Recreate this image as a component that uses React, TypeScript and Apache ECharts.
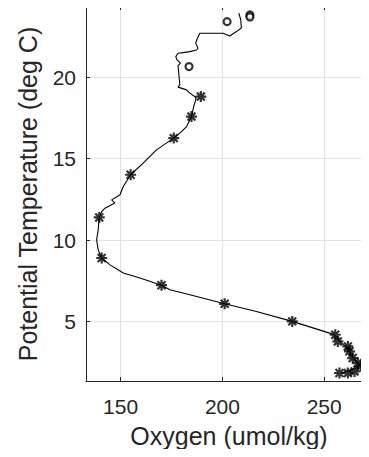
import React, { useEffect, useRef } from "react";
import * as echarts from "echarts";

// Profile line: [oxygen, potential temperature]
const profileOxygen = [
  208.1, 209.0, 209.3, 206.9, 203.6, 200.3, 188.9, 187.5, 186.9, 188.0, 187.3, 184.0, 180.7, 178.2,
  177.1, 177.7, 179.4, 178.2, 178.7, 179.1, 178.2, 182.4, 184.0, 186.9, 186.9, 185.9, 184.8, 182.4,
  179.9, 176.1, 172.5, 167.6, 166.0, 161.1, 154.9, 151.3, 149.7, 145.6, 147.2, 142.3, 140.7, 139.5,
  139.0, 138.2, 139.0, 140.7, 144.8, 151.3, 159.5, 170.1, 174.2, 184.0, 201.1, 216.7, 234.3, 252.6,
  255.0, 257.5, 261.6, 263.2, 264.9, 267.3, 265.7, 260.8, 258.3,
];
const profileTemp = [
  23.93, 23.52, 23.02, 22.8, 22.53, 22.7, 22.7, 22.33, 22.09, 21.78, 21.67, 21.57, 21.51, 21.47,
  21.26, 21.06, 20.86, 20.71, 20.04, 19.53, 19.39, 19.22, 19.02, 18.77, 18.61, 18.2, 17.58, 16.97,
  16.66, 16.26, 15.95, 15.54, 15.34, 14.72, 14.01, 13.29, 12.78, 12.47, 12.27, 11.96, 11.75, 11.39,
  10.63, 10.02, 9.4, 8.9, 8.48, 7.98, 7.67, 7.23, 6.95, 6.64, 6.09, 5.62, 5.01, 4.29,
  4.19, 3.78, 3.37, 2.96, 2.66, 2.35, 2.15, 1.94, 1.84,
];

// Bottle samples (asterisks)
const bottleOxygen = [189.4, 184.8, 176.1, 154.9, 139.5, 140.7, 170.1, 201.1, 234.3, 255.4, 256.7, 261.6, 262.4, 264.0, 266.5, 268.1, 264.9, 261.6, 257.5];
const bottleTemp = [18.81, 17.58, 16.26, 14.01, 11.39, 8.9, 7.23, 6.09, 5.01, 4.19, 3.78, 3.47, 3.17, 2.76, 2.45, 2.25, 1.94, 1.84, 1.84];

// Flagged samples (circles)
const flagOxygen = [183.6, 202.3, 213.5, 213.5];
const flagTemp = [20.65, 23.41, 23.82, 23.7];

const xTicks = [150, 200, 250];
const yTicks = [5, 10, 15, 20];
const xTitle = "Oxygen (umol/kg)";
const yTitle = "Potential Temperature (deg C)";

const FONT = "'Liberation Sans', Arial, Helvetica, sans-serif";
const TEXT_COLOR = "#262626";
const AXIS_COLOR = "#262626";
const GRID_COLOR = "#e2e2e2";
const ASTERISK = "path://M0,-5L0,5M-5,0L5,0M-3.6,-3.6L3.6,3.6M3.6,-3.6L-3.6,3.6";

export default function App() {
  const ref = useRef<HTMLDivElement>(null);
  useEffect(() => {
    if (!ref.current) return;
    const chart = echarts.init(ref.current, undefined, { renderer: "svg" });
    const zip = (a: number[], b: number[]) => a.map((v, i) => [v, b[i]]);
    const xCommon = {
      type: "value" as const,
      min: 133,
      max: 272,
      axisLine: { show: true, lineStyle: { color: AXIS_COLOR, width: 1 } },
      axisTick: { show: true, inside: true, length: 4, customValues: xTicks, lineStyle: { color: AXIS_COLOR } },
    };
    chart.setOption({
      animation: false,
      backgroundColor: "#fff",
      grid: { left: 86, right: -1, top: 6, bottom: 76, containLabel: false },
      xAxis: [
        {
          ...xCommon,
          position: "bottom",
          axisLabel: { customValues: xTicks, fontFamily: FONT, fontSize: 21, color: TEXT_COLOR, margin: 15 },
          splitLine: { show: true, lineStyle: { color: GRID_COLOR, width: 1 } },
        },
        {
          ...xCommon,
          position: "top",
          axisLabel: { show: false },
          splitLine: { show: false },
        },
      ],
      yAxis: [
        {
          type: "value",
          min: 1.35,
          max: 24.37,
          position: "left",
          axisLine: { show: true, lineStyle: { color: AXIS_COLOR, width: 1 } },
          axisTick: { show: true, inside: true, length: 4, customValues: yTicks, lineStyle: { color: AXIS_COLOR } },
          axisLabel: { customValues: yTicks, fontFamily: FONT, fontSize: 21, color: TEXT_COLOR, margin: 10, padding: [5, 0, 0, 0] },
          splitLine: { show: true, lineStyle: { color: GRID_COLOR, width: 1 } },
        },
      ],
      graphic: [
        {
          type: "text",
          x: 229,
          y: 436,
          style: { text: xTitle, fontFamily: FONT, fontSize: 25, fill: TEXT_COLOR, align: "center", verticalAlign: "middle" },
        },
        {
          type: "text",
          x: 28,
          y: 194,
          rotation: Math.PI / 2,
          style: { text: yTitle, fontFamily: FONT, fontSize: 25, fill: TEXT_COLOR, align: "center", verticalAlign: "middle" },
        },
      ],
      series: [
        {
          type: "line",
          data: zip(profileOxygen, profileTemp),
          showSymbol: false,
          symbol: "none",
          lineStyle: { color: "#000", width: 1.1 },
          z: 2,
        },
        {
          type: "scatter",
          data: zip(bottleOxygen, bottleTemp),
          symbol: ASTERISK,
          symbolSize: 11,
          itemStyle: { color: "transparent", borderColor: "#000", borderWidth: 2.2 },
          z: 3,
        },
        {
          type: "scatter",
          data: zip(flagOxygen, flagTemp),
          symbol: "circle",
          symbolSize: 7,
          itemStyle: { color: "#fff", borderColor: "#000", borderWidth: 2.2 },
          z: 3,
        },
      ],
    });
    return () => chart.dispose();
  }, []);
  return <div ref={ref} style={{ width: 369, height: 457, margin: -8 }} />;
}
